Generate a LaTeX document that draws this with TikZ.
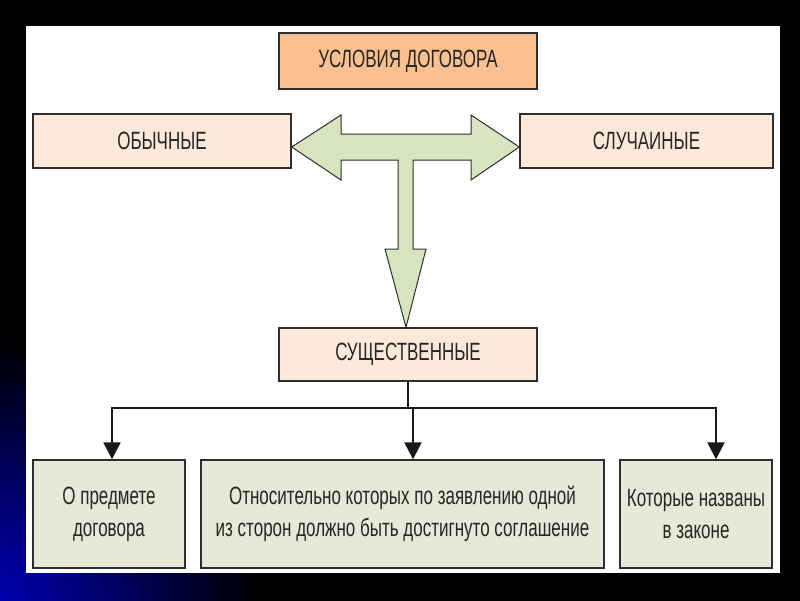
\documentclass[tikz,border=0pt]{standalone}
\usepackage{fontspec}
\setmainfont{Liberation Sans}[FakeStretch=0.68]
\usepackage{tikz}
\usetikzlibrary{positioning, calc, arrows.meta}
\definecolor{headfill}{HTML}{FAC08F}
\definecolor{kindfill}{HTML}{FDE9D9}
\definecolor{leaffill}{HTML}{E4E9D8}
\definecolor{teefill}{HTML}{D7E4BD}
\definecolor{rim}{HTML}{2E2E2E}
\definecolor{deepblue}{RGB}{0,0,180}

\begin{document}
\begin{tikzpicture}[x=1pt, y=-1pt, font=\fontsize{25}{32}\selectfont, box/.style={shape=rectangle, draw=rim, line width=1.4pt, align=center, inner sep=0pt, text=black!85}, kind/.style={box, fill=kindfill, minimum height=54pt}, leaf/.style={box, fill=leaffill, minimum height=108pt}, link/.style={line width=2.4pt, draw=black!90}]
\useasboundingbox (0,0) rectangle (800,600);
\fill[black] (-6,-6) rectangle (806,606);
\begin{scope}
	\clip (-6,-6) rectangle (806,606);
	\foreach \r in {27,...,1} {
		\pgfmathtruncatemacro\glow{100-\r*100/27}
		\fill[deepblue!\glow!black] (0,600) circle (\r*10);
	}
\end{scope}
\fill[white] (26,26) rectangle (780,573);

\node[box, fill=headfill, minimum width=258pt, minimum height=56pt] (conditions) at (408,61) {УСЛОВИЯ ДОГОВОРА};
\node[kind, minimum width=258pt] (usual) at (162,141) {ОБЫЧНЫЕ};
\node[kind, minimum width=253pt] (random) at (646.5,141) {СЛУЧАИНЫЕ};
\node[kind, minimum width=258pt, minimum height=53pt] (essential) at (408,354.5) {СУЩЕСТВЕННЫЕ};

\node[leaf, minimum width=152pt] (subject) at (109,514) {О предмете\\договора};
\node[leaf, minimum width=403pt] (party) at (402.5,514) {Относительно которых по заявлению одной\\из сторон должно быть достигнуто соглашение};
\node[leaf, minimum width=152pt] (law) at (696,514) {Которые названы\\в законе};

\draw[draw=rim, line width=1pt, fill=teefill, line join=miter] (usual.east |- 0,147) -- (341,115) -- (341,134) -- (471,134) -- (471,115) -- (random.west |- 0,147) -- (471,180) -- (471,160) -- (413,160) -- (413,249) -- (426,249) -- (essential.north -| 406,0) -- (385,249) -- (398,249) -- (398,160) -- (341,160) -- (341,180) -- cycle;

\coordinate (fork) at (essential.south |- 0,408);
\foreach \b/\x in {subject/112, party/413, law/716} {
	\coordinate (drop \b) at (\x,408);
	\draw[link, -{Triangle[length=17pt, width=17pt]}] (drop \b) -- (drop \b |- \b.north);
}
\draw[link] (essential.south) -- (fork);
\draw[link, line cap=rect] (drop subject) -- (drop law);
\end{tikzpicture}
\end{document}
